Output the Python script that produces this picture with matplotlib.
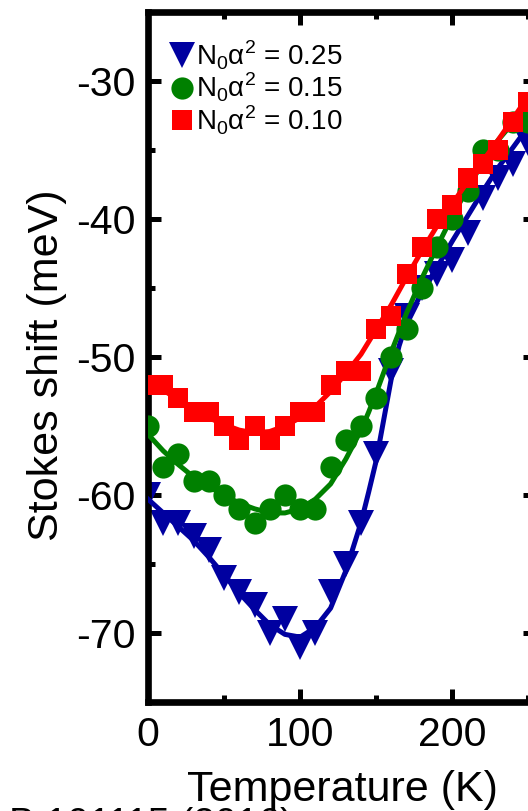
import numpy as np
import matplotlib

matplotlib.use("Agg")
import matplotlib.pyplot as plt
from matplotlib.ticker import MultipleLocator

# -----------------------------------
# Data: Stokes shift vs temperature
# -----------------------------------
temps = [0, 10, 20, 30, 40, 50, 60, 70, 80, 90, 100, 110, 120,
         130, 140, 150, 160, 170, 180, 190, 200, 210, 220, 230, 240, 250]

shift_025 = [-60, -62, -62, -63, -64, -66, -67, -68, -70, -69, -71, -70, -67,
             -65, -62, -57, -51, -47, -45, -44, -43, -41, -38.5, -37, -36, -34.5]
shift_015 = [-55, -58, -57, -59, -59, -60, -61, -62, -61, -60, -61, -61, -58,
             -56, -55, -53, -50, -48, -45, -42, -40, -38, -35, -35, -33, -33]
shift_010 = [-52, -52, -53, -54, -54, -55, -56, -55, -56, -55, -54, -54, -52,
             -51, -51, -48, -47, -44, -42, -40, -39, -37, -36, -35, -33, -31.5]

# model curves
fit_temps = [0, 10, 20, 30, 40, 50, 60, 70, 80, 90, 100, 110, 120, 130, 140,
             145, 150, 155, 160, 165, 170, 180, 190, 200, 210, 220, 230, 240, 250]
fit_025 = [-60.3, -61.3, -62.3, -63.3, -64.5, -65.8, -67.1, -68.3, -69.4, -70.1,
           -70.3, -69.6, -68.2, -65.5, -62.0, -59.8, -57.5, -54.5, -51.5, -49.2,
           -47.5, -45.3, -43.5, -41.6, -39.8, -38.0, -36.3, -34.8, -33.3]
fit_015 = [-55.6, -56.8, -57.8, -58.7, -59.4, -60.0, -60.6, -61.0, -61.3, -61.3,
           -61.0, -60.3, -59.2, -57.4, -55.3, -54.0, -52.6, -51.1, -49.6, -48.2,
           -46.8, -44.3, -42.0, -39.8, -37.8, -35.9, -34.3, -33.0, -31.8]
fit_010 = [-51.8, -52.4, -53.1, -53.8, -54.4, -54.9, -55.3, -55.5, -55.4, -55.0,
           -54.4, -53.6, -52.5, -51.2, -49.8, -48.9, -48.0, -47.1, -46.2, -45.2,
           -44.2, -42.3, -40.5, -38.9, -37.3, -35.8, -34.3, -32.7, -31.1]

labels = ["N$_\\mathregular{0}$α$^\\mathregular{2}$ = 0.25",
          "N$_\\mathregular{0}$α$^\\mathregular{2}$ = 0.15",
          "N$_\\mathregular{0}$α$^\\mathregular{2}$ = 0.10"]
colors = ["#0000a0", "#008000", "#ff0000"]
markers = ["v", "o", "s"]
marker_sizes = [18.5, 16, 14.5]

# -----------------------------------
# Figure
# -----------------------------------
plt.rcParams["font.family"] = ["Liberation Sans", "DejaVu Sans"]
plt.rcParams["mathtext.fontset"] = "custom"
plt.rcParams["mathtext.rm"] = "Liberation Sans"
plt.rcParams["axes.unicode_minus"] = False

fig = plt.figure(figsize=(5.28, 8.11), dpi=100)
ax = fig.add_axes([148 / 528, 1 - 702 / 811, 388 / 528, 690 / 811])

series = [shift_025, shift_015, shift_010]
fits = [fit_025, fit_015, fit_010]
handles = []
for i in range(3):
    h, = ax.plot(temps, series[i], linestyle="none", marker=markers[i],
                 ms=marker_sizes[i], color=colors[i], mec=colors[i], mew=0,
                 zorder=2 + 2 * i)
    ax.plot(fit_temps, fits[i], color=colors[i], lw=3.6, zorder=3 + 2 * i)
    handles.append(h)

ax.set_xlim(0, 255)
ax.set_ylim(-75, -25)
ax.xaxis.set_major_locator(MultipleLocator(100))
ax.xaxis.set_minor_locator(MultipleLocator(50))
ax.yaxis.set_major_locator(MultipleLocator(10))
ax.yaxis.set_minor_locator(MultipleLocator(5))

for side in ax.spines.values():
    side.set_linewidth(4.8)
ax.tick_params(which="both", direction="in", top=True, right=True,
               width=3.6, labelsize=29.5)
ax.tick_params(which="major", length=9.5, pad=10)
ax.tick_params(which="minor", length=5)
ax.tick_params(axis="y", pad=9)

ax.set_xlabel("Temperature (K)", fontsize=31)
ax.set_ylabel("Stokes shift (meV)", fontsize=31)
ax.xaxis.set_label_coords(0.5, -0.098)
ax.yaxis.set_label_coords(-0.21, 0.488)

ax.legend(handles, labels, loc="upper left", bbox_to_anchor=(0.055, 0.962),
          frameon=False, fontsize=20, handlelength=0.9, handletextpad=0.05,
          labelspacing=-0.02, borderpad=0, borderaxespad=0)

# citation line running off the lower edge
fig.text(293 / 528, -0.029, "B 101115 (2016)", fontsize=28, ha="right",
         va="baseline")

fig.savefig("out.png", dpi=100)
